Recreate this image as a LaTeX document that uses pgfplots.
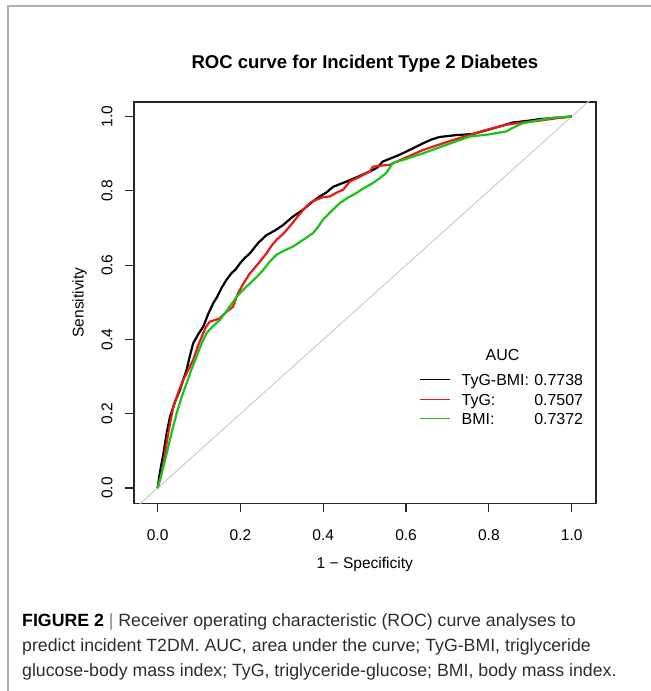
\documentclass[border=0pt]{standalone}
\usepackage{pgfplots}
\pgfplotsset{compat=1.18}
\usepackage{fontspec}
\setmainfont{Liberation Sans}
\definecolor{rocred}{RGB}{235,25,25}
\definecolor{rocgreen}{RGB}{25,195,25}
\definecolor{diaggray}{RGB}{200,200,200}
\definecolor{framegray}{RGB}{175,175,175}
\definecolor{captext}{RGB}{45,45,45}

\begin{document}
\begin{tikzpicture}
\path[use as bounding box] (0,0) rectangle (651bp,-691bp);
\draw[framegray, line width=1.5bp] (8bp,-691bp) -- (8bp,-6bp) -- (651bp,-6bp);

\begin{axis}[
    at={(134bp,-503.3bp)}, anchor=south west,
    scale only axis, width=461.7bp, height=401.6bp,
    xmin=-0.057, xmax=1.058, ymin=-0.041, ymax=1.040,
    axis line style={line width=1.6bp, black!85},
    tick pos=left, tick align=outside,
    major tick length=9bp,
    tick style={line width=1.2bp, black!85},
    xtick={0,0.2,0.4,0.6,0.8,1}, ytick={0,0.2,0.4,0.6,0.8,1},
    minor tick num=0,
    /pgf/number format/.cd, fixed, fixed zerofill, precision=1, assume math mode=true,
    /pgfplots/.cd,
    ticklabel style={font=\fontsize{15.6}{18}\selectfont},
    xticklabel style={anchor=base, yshift=-27.8bp},
    yticklabel style={rotate=90, anchor=base, yshift=12.7bp},
    title={ROC curve for Incident Type 2 Diabetes},
    title style={font=\bfseries\fontsize{18.6}{22}\selectfont, anchor=base,
                 at={(axis description cs:0.5,1)}, yshift=27bp},
    xlabel={1 − Specificity},
    xlabel style={font=\fontsize{15.6}{18}\selectfont, anchor=base,
                  at={(axis description cs:0.5,0)}, yshift=-65.3bp},
    ylabel={Sensitivity},
    ylabel style={font=\fontsize{15.6}{18}\selectfont, anchor=base,
                  at={(axis description cs:0,0.5)}, yshift=50.4bp},
    clip mode=individual,
]

% diagonal reference line
\addplot[diaggray, line width=0.9bp] coordinates {(-0.1,-0.1) (1.1,1.1)};

% TyG-BMI
\addplot[black, line width=2.2bp] coordinates {
(0,0) (0.006,0.045) (0.014,0.093) (0.022,0.148) (0.030,0.192) (0.042,0.232)
(0.054,0.264) (0.062,0.292) (0.070,0.318) (0.078,0.356) (0.086,0.390)
(0.098,0.414) (0.110,0.434) (0.122,0.468) (0.134,0.497) (0.144,0.515)
(0.154,0.538) (0.166,0.560) (0.178,0.578) (0.188,0.588) (0.199,0.605)
(0.211,0.620) (0.223,0.632) (0.243,0.660) (0.263,0.681) (0.283,0.693)
(0.303,0.708) (0.327,0.731) (0.351,0.749) (0.371,0.768) (0.391,0.785)
(0.408,0.796) (0.424,0.811) (0.440,0.818) (0.456,0.825) (0.484,0.838)
(0.512,0.852) (0.530,0.862) (0.544,0.879) (0.564,0.888) (0.584,0.897)
(0.612,0.912) (0.641,0.928) (0.661,0.938) (0.681,0.945) (0.720,0.950)
(0.761,0.953) (0.810,0.968) (0.858,0.984) (0.890,0.988) (0.922,0.993) (1,1)};

% TyG
\addplot[rocred, line width=2.2bp] coordinates {
(0,0) (0.008,0.032) (0.014,0.067) (0.026,0.150) (0.038,0.219) (0.050,0.258)
(0.062,0.291) (0.074,0.318) (0.086,0.345) (0.098,0.384) (0.110,0.417)
(0.118,0.436) (0.126,0.448) (0.138,0.452) (0.150,0.457) (0.166,0.474)
(0.182,0.488) (0.194,0.524) (0.208,0.552) (0.223,0.578) (0.243,0.604)
(0.263,0.632) (0.275,0.652) (0.287,0.668) (0.303,0.684) (0.319,0.704)
(0.339,0.732) (0.359,0.758) (0.371,0.770) (0.383,0.776) (0.400,0.783)
(0.416,0.785) (0.432,0.795) (0.448,0.803) (0.464,0.825) (0.488,0.838)
(0.512,0.852) (0.520,0.865) (0.540,0.868) (0.560,0.870) (0.600,0.890)
(0.641,0.910) (0.700,0.932) (0.761,0.953) (0.800,0.966) (0.842,0.978)
(0.880,0.984) (0.922,0.989) (0.960,0.995) (1,1)};

% BMI
\addplot[rocgreen, line width=2.2bp] coordinates {
(0,0) (0.010,0.040) (0.022,0.093) (0.034,0.150) (0.046,0.201) (0.058,0.245)
(0.070,0.282) (0.082,0.320) (0.094,0.354) (0.106,0.388) (0.118,0.417)
(0.134,0.436) (0.150,0.452) (0.170,0.482) (0.191,0.515) (0.207,0.534)
(0.223,0.551) (0.239,0.568) (0.255,0.587) (0.271,0.610) (0.287,0.628)
(0.307,0.640) (0.327,0.650) (0.351,0.668) (0.375,0.686) (0.387,0.702)
(0.399,0.722) (0.420,0.746) (0.440,0.767) (0.460,0.782) (0.480,0.794)
(0.496,0.806) (0.512,0.816) (0.520,0.821) (0.536,0.834) (0.552,0.848)
(0.568,0.875) (0.600,0.886) (0.641,0.901) (0.700,0.925) (0.753,0.946)
(0.800,0.952) (0.842,0.960) (0.862,0.972) (0.882,0.982) (0.920,0.990)
(0.954,0.997) (1,1)};

% legend
\node[anchor=base, font=\fontsize{16}{18}\selectfont] at (axis cs:0.833,0.343) {AUC};
\draw[black, line width=0.9bp] (axis cs:0.633,0.293) -- (axis cs:0.705,0.293);
\draw[rocred, line width=0.9bp] (axis cs:0.633,0.239) -- (axis cs:0.705,0.239);
\draw[rocgreen, line width=0.9bp] (axis cs:0.633,0.188) -- (axis cs:0.705,0.188);
\node[anchor=base west, inner sep=0, font=\fontsize{16}{18}\selectfont] at (axis cs:0.734,0.277) {TyG-BMI:};
\node[anchor=base west, inner sep=0, font=\fontsize{16}{18}\selectfont] at (axis cs:0.734,0.2235) {TyG:};
\node[anchor=base west, inner sep=0, font=\fontsize{16}{18}\selectfont] at (axis cs:0.734,0.172) {BMI:};
\node[anchor=base east, inner sep=0, font=\fontsize{16}{18}\selectfont] at (axis cs:1.028,0.277) {0.7738};
\node[anchor=base east, inner sep=0, font=\fontsize{16}{18}\selectfont] at (axis cs:1.028,0.2235) {0.7507};
\node[anchor=base east, inner sep=0, font=\fontsize{16}{18}\selectfont] at (axis cs:1.028,0.172) {0.7372};
\end{axis}

% caption
\begin{scope}[every node/.style={anchor=base west, inner sep=0, text=captext,
    font=\fontsize{17.8}{25}\selectfont}]
\node at (22bp,-626bp) {\textbf{\color{black}FIGURE 2} {\color{gray}|} Receiver operating characteristic (ROC) curve analyses to};
\node at (22bp,-651bp) {predict incident T2DM. AUC, area under the curve; TyG-BMI, triglyceride};
\node at (22bp,-676bp) {glucose-body mass index; TyG, triglyceride-glucose; BMI, body mass index.};
\end{scope}
\end{tikzpicture}
\end{document}
